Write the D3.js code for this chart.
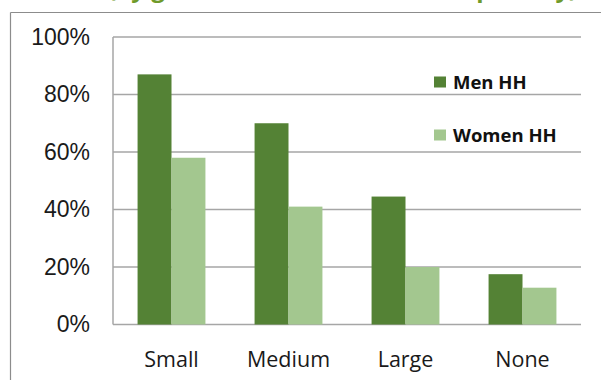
<!DOCTYPE html>
<html>
<head>
<meta charset="utf-8">
<script src="https://cdn.jsdelivr.net/npm/d3@7/dist/d3.min.js"></script>
<style>
  body { margin: 0; background: #fff; }
  svg { display: block; }
</style>
</head>
<body>
<div id="chart"></div>
<script>
(function() {
  var categories = ["Small", "Medium", "Large", "None"];
  var seriesNames = ["Men HH", "Women HH"];
  var menHH = [0.87, 0.70, 0.445, 0.175];
  var womenHH = [0.58, 0.41, 0.20, 0.128];
  var yTicks = [0, 0.2, 0.4, 0.6, 0.8, 1.0];
  var titleText = "Livestock ownership by herd size (by gender of household head, poverty)";

  var colors = ["#548235", "#a3c78f"];

  var W = 601, H = 380;
  var margin = { top: 37, left: 113, right: 20, bottom: 55.5 },
  width = W - margin.left - margin.right,
  height = H - margin.top - margin.bottom;

  var root = d3.select("#chart")
    .append("svg")
    .attr("width", W)
    .attr("height", H);

  // title sits mostly above the picture, only descenders show
  var title = root.append("text")
    .attr("x", 0)
    .attr("y", -3)
    .attr("font-family", "Open Sans, sans-serif")
    .attr("font-weight", "bold")
    .attr("font-size", 24)
    .attr("fill", "#6f9a2a")
    .text(titleText);
  var pre = titleText.indexOf("(");
  var preLen = title.node().getSubStringLength(0, pre);
  title.attr("x", 108 - preLen);

  // outer frame
  root.append("line")
    .attr("x1", 10.5).attr("x2", W)
    .attr("y1", 12.5).attr("y2", 12.5)
    .attr("stroke", "#8c8c8c").attr("stroke-width", 1.2);
  root.append("line")
    .attr("x1", 10.5).attr("x2", 10.5)
    .attr("y1", 12.5).attr("y2", H)
    .attr("stroke", "#8c8c8c").attr("stroke-width", 1.2);

  var svg = root.append("g")
    .attr("transform", "translate(" + margin.left + "," + margin.top + ")");

  var x0 = d3.scaleBand()
    .domain(categories)
    .range([0, width])
    .paddingInner(0.42)
    .paddingOuter(0.21);

  var x1 = d3.scaleBand()
    .domain(seriesNames)
    .range([0, x0.bandwidth()]);

  var y = d3.scaleLinear()
    .domain([0, 1])
    .range([height, 0]);

  // gridlines
  svg.append("g")
    .attr("class", "grid")
    .selectAll("line")
    .data(yTicks)
    .enter().append("line")
    .attr("x1", 0)
    .attr("x2", width)
    .attr("y1", function(d) { return y(d); })
    .attr("y2", function(d) { return y(d); })
    .attr("stroke", "#a6a6a6")
    .attr("stroke-width", 1.5);

  // left plot edge
  svg.append("line")
    .attr("x1", 0).attr("x2", 0)
    .attr("y1", y(1)).attr("y2", y(0))
    .attr("stroke", "#a6a6a6")
    .attr("stroke-width", 1.5);

  var yAxis = d3.axisLeft(y)
    .tickValues(yTicks)
    .tickFormat(d3.format(".0%"))
    .tickSize(0)
    .tickPadding(23);

  var yg = svg.append("g")
    .attr("class", "axis y-axis")
    .call(yAxis);
  yg.select(".domain").remove();
  yg.selectAll("text")
    .attr("font-family", "Liberation Sans, Arial, sans-serif")
    .attr("font-size", 23)
    .attr("fill", "#1a1a1a");

  var rows = categories.map(function(c, i) {
    return { cat: c, values: [menHH[i], womenHH[i]] };
  });

  var groups = svg.selectAll(".cat")
    .data(rows)
    .enter().append("g")
    .attr("class", "cat")
    .attr("transform", function(d) { return "translate(" + x0(d.cat) + ",0)"; });

  groups.selectAll("rect")
    .data(function(d) {
      return d.values.map(function(v, i) { return { name: seriesNames[i], value: v, idx: i }; });
    })
    .enter().append("rect")
    .attr("x", function(d) { return x1(d.name); })
    .attr("width", x1.bandwidth())
    .attr("y", function(d) { return y(d.value); })
    .attr("height", function(d) { return y(0) - y(d.value); })
    .attr("fill", function(d) { return colors[d.idx]; });

  var xAxis = d3.axisBottom(x0)
    .tickSize(0)
    .tickPadding(27);

  var xg = svg.append("g")
    .attr("class", "axis x-axis")
    .attr("transform", "translate(0," + height + ")")
    .call(xAxis);
  xg.select(".domain").remove();
  xg.selectAll("text")
    .attr("font-family", "Open Sans, sans-serif")
    .attr("font-size", 21.5)
    .attr("fill", "#1a1a1a");

  // legend
  var legend = root.append("g").attr("class", "legend");
  var legY = [82, 135];
  seriesNames.forEach(function(name, i) {
    legend.append("rect")
      .attr("x", 434)
      .attr("y", legY[i] - 5.5)
      .attr("width", 12)
      .attr("height", 11)
      .attr("fill", colors[i]);
    legend.append("text")
      .attr("x", 453)
      .attr("y", legY[i] + 6.5)
      .attr("font-family", "Open Sans, sans-serif")
      .attr("font-weight", "bold")
      .attr("font-size", 18.5)
      .attr("fill", "#111")
      .text(name);
  });
})();
</script>
</body>
</html>
